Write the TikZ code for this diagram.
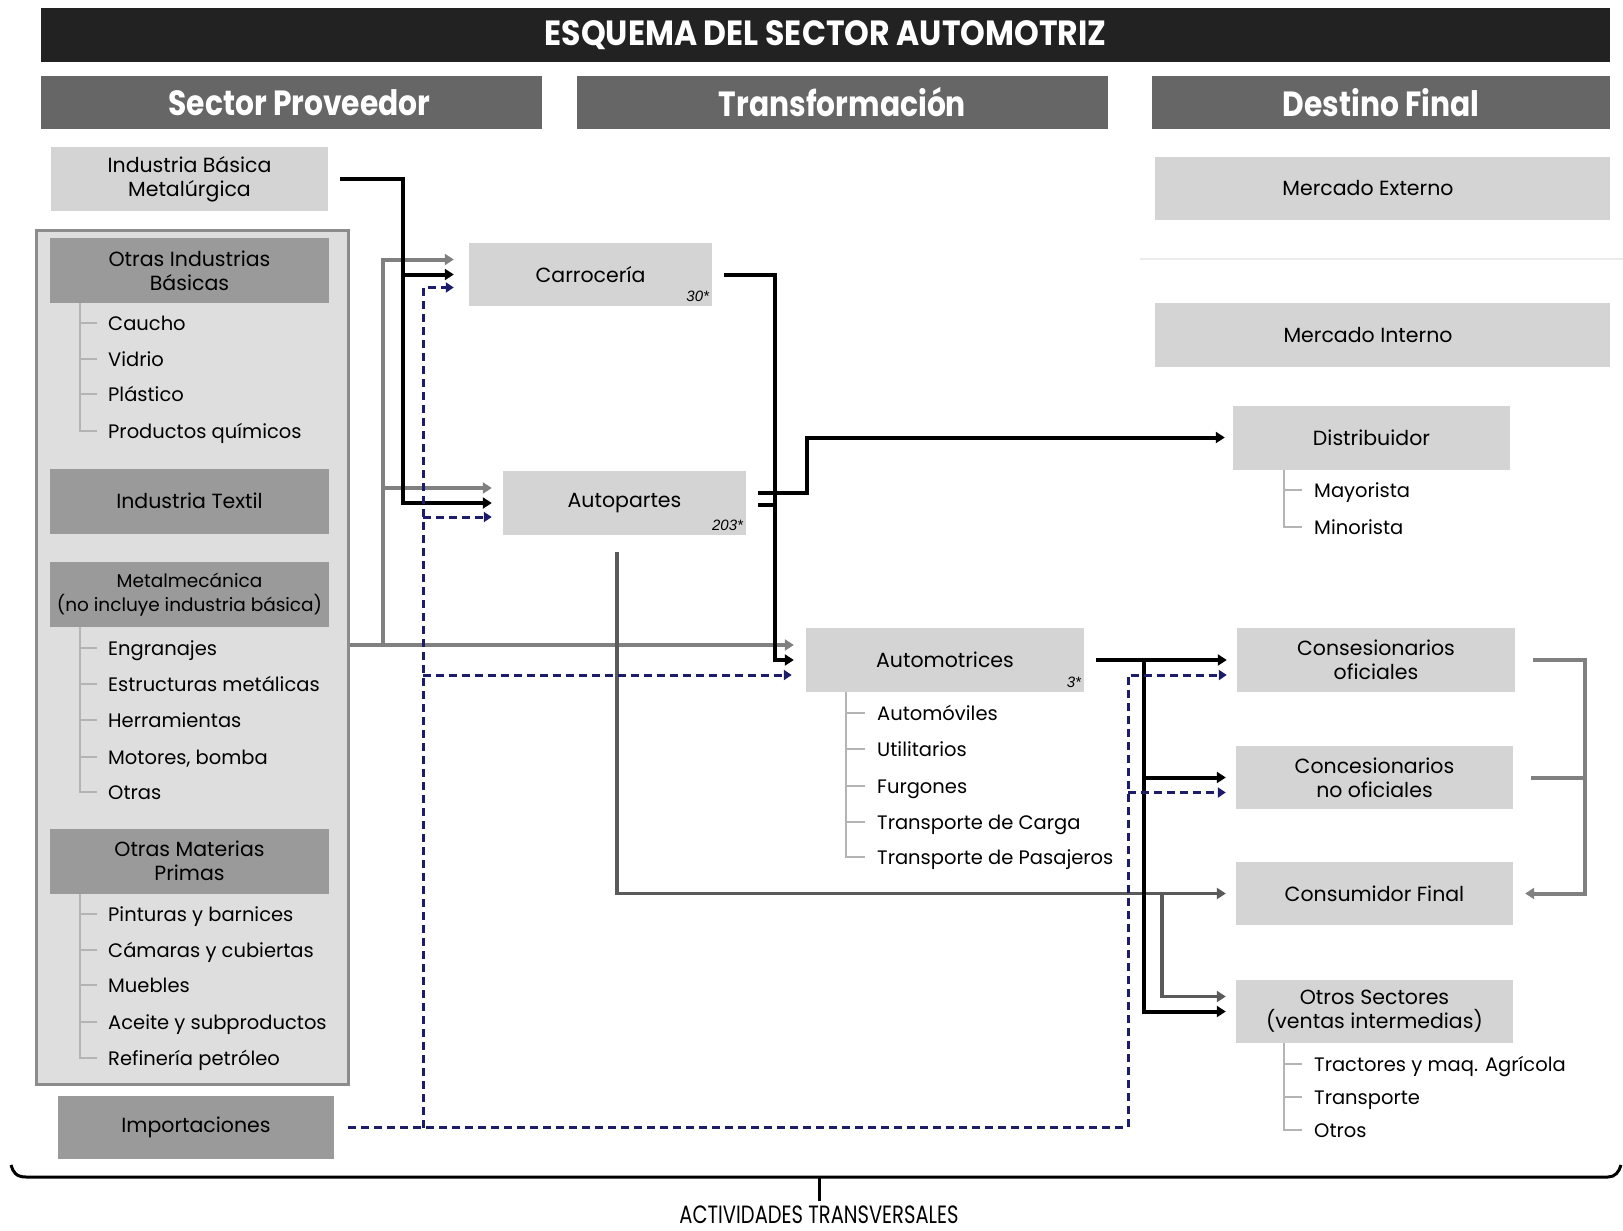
\documentclass[tikz,border=0pt]{standalone}
\usepackage{fontspec}
\setmainfont{Poppins}
\newfontfamily\titlefont[FakeStretch=0.9]{Poppins}
\newfontfamily\headfont[FakeStretch=0.85]{Poppins}
\newfontfamily\transfont[FakeStretch=0.78]{Poppins}
\newfontfamily\numfont{Liberation Sans}
\usetikzlibrary{arrows.meta}

\definecolor{titlegray}{HTML}{222222}
\definecolor{headgray}{HTML}{666666}
\definecolor{boxgray}{HTML}{D4D4D4}
\definecolor{panelgray}{HTML}{DEDEDE}
\definecolor{panelline}{HTML}{8C8C8C}
\definecolor{darkbox}{HTML}{9A9A9A}
\definecolor{treegray}{HTML}{B4B4B4}
\definecolor{arrowgray}{HTML}{808080}
\definecolor{linegray}{HTML}{5A5A5A}
\definecolor{dashnavy}{HTML}{1C1C6B}
\definecolor{sepgray}{HTML}{EBEBEB}

\tikzset{
  titlebar/.style={fill=titlegray, text=white, inner sep=0pt, font=\titlefont\bfseries\fontsize{35}{38}\selectfont},
  colhead/.style={fill=headgray, text=white, inner sep=0pt, minimum height=53pt, font=\headfont\bfseries\fontsize{35}{38}\selectfont},
  lbox/.style={fill=boxgray, inner sep=0pt, minimum height=63pt, align=center, font=\fontsize{20.5}{24}\selectfont},
  dbox/.style={lbox, fill=darkbox, minimum width=279pt, minimum height=65pt},
  panel/.style={fill=panelgray, draw=panelline, line width=3pt, inner sep=0pt},
  item/.style={anchor=west, inner xsep=11pt, inner ysep=0pt, text height=19pt, text depth=4pt, font=\fontsize{19.5}{22}\selectfont},
  num/.style={anchor=base east, inner sep=0pt, font=\numfont\itshape\fontsize{15}{16}\selectfont},
  tree/.style={draw=treegray, line width=1.8pt},
  blk/.style={draw=black, line width=4pt, -{Triangle[length=9pt,width=11pt]}},
  gry/.style={draw=arrowgray, line width=4pt, -{Triangle[length=9pt,width=11pt]}},
  dgr/.style={draw=linegray, line width=3.5pt, -{Triangle[length=9pt,width=11pt]}},
  nav/.style={draw=dashnavy, line width=3pt, dash pattern=on 8pt off 5pt, -{Triangle[length=8pt,width=10pt]}},
  brace/.style={draw=black, line width=3pt},
}

\begin{document}
\begin{tikzpicture}[x=1pt,y=-1pt]
\useasboundingbox (0,0) rectangle (1623,1231);
\fill[white] (0,0) rectangle (1623,1231);

% titles
\node[titlebar, minimum width=1569pt, minimum height=54pt] (title) at (825.5,35) {ESQUEMA DEL SECTOR AUTOMOTRIZ};
\node[colhead, minimum width=501pt] (hprov) at (291.5,102.5) {\hspace*{16pt}Sector Proveedor};
\node[colhead, minimum width=531pt] (htrans) at (842.5,102.5) {Transformación};
\node[colhead, minimum width=458pt] (hdest) at (1381,102.5) {Destino Final};

% sector proveedor
\node[lbox, minimum width=277pt, minimum height=64pt] (ibm) at (189.5,179) {Industria Básica\\Metalúrgica};
\node[panel, minimum width=312pt, minimum height=854pt] (panel) at (192,657) {};
\node[dbox] (oib) at (189.5,270.5) {Otras Industrias\\Básicas};
\node[item] (oib1) at (97,323) {Caucho};
\node[item] (oib2) at (97,359) {Vidrio};
\node[item] (oib3) at (97,394) {Plástico};
\node[item] (oib4) at (97,431) {Productos químicos};
\node[dbox] (tex) at (189.5,501) {Industria Textil};
\node[dbox, font=\fontsize{18.5}{24}\selectfont] (met) at (189.5,594.5) {Metalmecánica\\(no incluye industria básica)};
\node[item] (met1) at (97,648) {Engranajes};
\node[item] (met2) at (97,684) {Estructuras metálicas};
\node[item] (met3) at (97,720) {Herramientas};
\node[item] (met4) at (97,757) {Motores, bomba};
\node[item] (met5) at (97,792) {Otras};
\node[dbox] (omp) at (189.5,861) {Otras Materias\\Primas};
\node[item] (omp1) at (97,914) {Pinturas y barnices};
\node[item] (omp2) at (97,950) {Cámaras y cubiertas};
\node[item] (omp3) at (97,985) {Muebles};
\node[item] (omp4) at (97,1022) {Aceite y subproductos};
\node[item] (omp5) at (97,1058) {Refinería petróleo};
\node[dbox, minimum width=276pt, minimum height=63pt] (imp) at (196,1127.5) {Importaciones};

% transformacion
\node[lbox, minimum width=243pt] (carr) at (590.5,274.5) {Carrocería};
\node[num] (carrn) at ([xshift=-3pt,yshift=5pt]carr.south east) {30*};
\node[lbox, minimum width=243pt, minimum height=64pt] (autop) at (624.5,503) {Autopartes};
\node[num] (autopn) at ([xshift=-3pt,yshift=5pt]autop.south east) {203*};
\node[lbox, minimum width=278pt, minimum height=64pt] (autom) at (945,660) {Automotrices};
\node[num] (automn) at ([xshift=-3pt,yshift=5pt]autom.south east) {3*};
\node[item, inner xsep=12pt] (aut1) at (865,713) {Automóviles};
\node[item, inner xsep=12pt] (aut2) at (865,749) {Utilitarios};
\node[item, inner xsep=12pt] (aut3) at (865,786) {Furgones};
\node[item, inner xsep=12pt] (aut4) at (865,822) {Transporte de Carga};
\node[item, inner xsep=12pt] (aut5) at (865,857) {Transporte de Pasajeros};

% destino final
\node[lbox, minimum width=455pt] (mext) at (1382.5,188.5) {\hspace*{-29pt}Mercado Externo};
\draw[sepgray, line width=1.5pt] (1140,259) -- (1623,259);
\node[lbox, minimum width=455pt, minimum height=64pt] (mint) at (1382.5,335) {\hspace*{-29pt}Mercado Interno};
\node[lbox, minimum width=277pt, minimum height=64pt] (dist) at (1371.5,437.5) {Distribuidor};
\node[item, inner xsep=12pt] (dist1) at (1302,490) {Mayorista};
\node[item, inner xsep=12pt] (dist2) at (1302,527) {Minorista};
\node[lbox, minimum width=278pt, minimum height=64pt] (cof) at (1376,660) {Consesionarios\\oficiales};
\node[lbox, minimum width=277pt] (cno) at (1374.5,777.5) {Concesionarios\\no oficiales};
\node[lbox, minimum width=277pt] (cfin) at (1374.5,893.5) {Consumidor Final};
\node[lbox, minimum width=277pt] (otros) at (1374.5,1011.5) {Otros Sectores\\(ventas intermedias)};
\node[item, inner xsep=12pt] (otr1) at (1302,1064) {Tractores y maq. Agrícola};
\node[item, inner xsep=12pt] (otr2) at (1302,1097) {Transporte};
\node[item, inner xsep=12pt] (otr3) at (1302,1130) {Otros};

% tree lines
\coordinate (tprov) at (80,0);
\coordinate (tauto) at (846,0);
\coordinate (tdest) at (1284,0);
\draw[tree] (oib.south -| tprov) |- (oib4.west) (tprov |- oib1.west) -- (oib1.west) (tprov |- oib2.west) -- (oib2.west) (tprov |- oib3.west) -- (oib3.west);
\draw[tree] (met.south -| tprov) |- (met5.west) (tprov |- met1.west) -- (met1.west) (tprov |- met2.west) -- (met2.west) (tprov |- met3.west) -- (met3.west) (tprov |- met4.west) -- (met4.west);
\draw[tree] (omp.south -| tprov) |- (omp5.west) (tprov |- omp1.west) -- (omp1.west) (tprov |- omp2.west) -- (omp2.west) (tprov |- omp3.west) -- (omp3.west) (tprov |- omp4.west) -- (omp4.west);
\draw[tree] (autom.south -| tauto) |- (aut5.west) (tauto |- aut1.west) -- (aut1.west) (tauto |- aut2.west) -- (aut2.west) (tauto |- aut3.west) -- (aut3.west) (tauto |- aut4.west) -- (aut4.west);
\draw[tree] (dist.south -| tdest) |- (dist2.west) (tdest |- dist1.west) -- (dist1.west);
\draw[tree] (otros.south -| tdest) |- (otr3.west) (tdest |- otr1.west) -- (otr1.west) (tdest |- otr2.west) -- (otr2.west);

% buses and offsets
\coordinate (busgry) at (383,0);
\coordinate (busblk) at (403,0);
\coordinate (busnav) at (423,0);
\coordinate (busap) at (617,0);
\coordinate (busaut) at (775,0);
\coordinate (busdis) at (807,0);
\coordinate (busimp) at (1128,0);
\coordinate (busout) at (1144,0);
\coordinate (busotr) at (1162,0);
\coordinate (busret) at (1585,0);
\coordinate (carr-t) at ([yshift=15pt]carr.west);
\coordinate (carr-b) at ([yshift=-13pt]carr.west);
\coordinate (autop-t) at ([yshift=15pt]autop.west);
\coordinate (autop-b) at ([yshift=-14pt]autop.west);
\coordinate (autom-t) at ([yshift=15pt]autom.west);
\coordinate (autom-b) at ([yshift=-15pt]autom.west);
\coordinate (cof-b) at ([yshift=-15pt]cof.west);
\coordinate (cno-b) at ([yshift=-15pt]cno.west);
\coordinate (otros-t) at ([yshift=15pt]otros.west);
\coordinate (ap-s1) at ([yshift=10pt]autop.east);
\coordinate (ap-s2) at ([yshift=-2pt]autop.east);

% gray flows
\draw[gry, shorten >=12pt] (autom-t -| panel.east) -- (autom-t);
\draw[gry, shorten >=15pt] (busgry |- autom-t) |- (carr-t);
\draw[gry, shorten >=11pt] (busgry |- autop-t) -- (autop-t);

% autopartes to consumidor final
\draw[dgr, shorten <=17pt, shorten >=10pt] (busap |- autop.south) |- (cfin.west);
\draw[dgr, shorten >=10pt] (busotr |- cfin.west) |- (otros-t);

% black flows
\draw[blk, shorten <=12pt, shorten >=11pt] (ibm.east) -| (busblk |- autop.west) -- (autop.west);
\draw[blk, shorten >=15pt] (busblk |- carr.west) -- (carr.west);
\draw[blk, shorten <=12pt, shorten >=12pt] (carr.east) -| (busaut |- autom.west) -- (autom.west);
\draw[blk, -, shorten <=12pt] (ap-s2) -- (busaut |- ap-s2);
\draw[blk, shorten <=12pt, shorten >=8pt] (ap-s1) -| (busdis |- dist.west) -- (dist.west);
\draw[blk, shorten <=12pt, shorten >=10pt] (autom.east) -- (cof.west);
\draw[blk, shorten >=10pt] (busout |- cof.west) |- (otros.west);
\draw[blk, shorten >=10pt] (busout |- cno.west) -- (cno.west);

% imports
\draw[nav, shorten <=14pt, shorten >=10pt] (imp.east) -| (busimp |- cof-b) -- (cof-b);
\draw[nav, shorten >=10pt] (busimp |- cno-b) -- (cno-b);
\draw[nav, shorten >=15pt] (busnav |- imp.east) |- (carr-b);
\draw[nav, shorten >=11pt] (busnav |- autop-b) -- (autop-b);
\draw[nav, shorten >=14pt] (busnav |- autom-b) -- (autom-b);

% return to consumidor final
\draw[gry, shorten <=18pt, shorten >=12pt] (cof.east) -| (busret |- cfin.east) -- (cfin.east);
\draw[gry, -, shorten <=18pt] (cno.east) -- (busret |- cno.east);

% actividades transversales
\node[inner sep=0pt, font=\transfont\fontsize{25}{27}\selectfont] (trans) at (819,1215) {ACTIVIDADES TRANSVERSALES};
\coordinate (bmid) at (819,1177);
\draw[brace] (11,1165) .. controls (13,1172) and (16,1177) .. (26,1177) -- (1608,1177) .. controls (1615,1177) and (1619,1172) .. (1621,1165);
\draw[brace, shorten >=5pt] (bmid) -- (trans.north);
\end{tikzpicture}
\end{document}
